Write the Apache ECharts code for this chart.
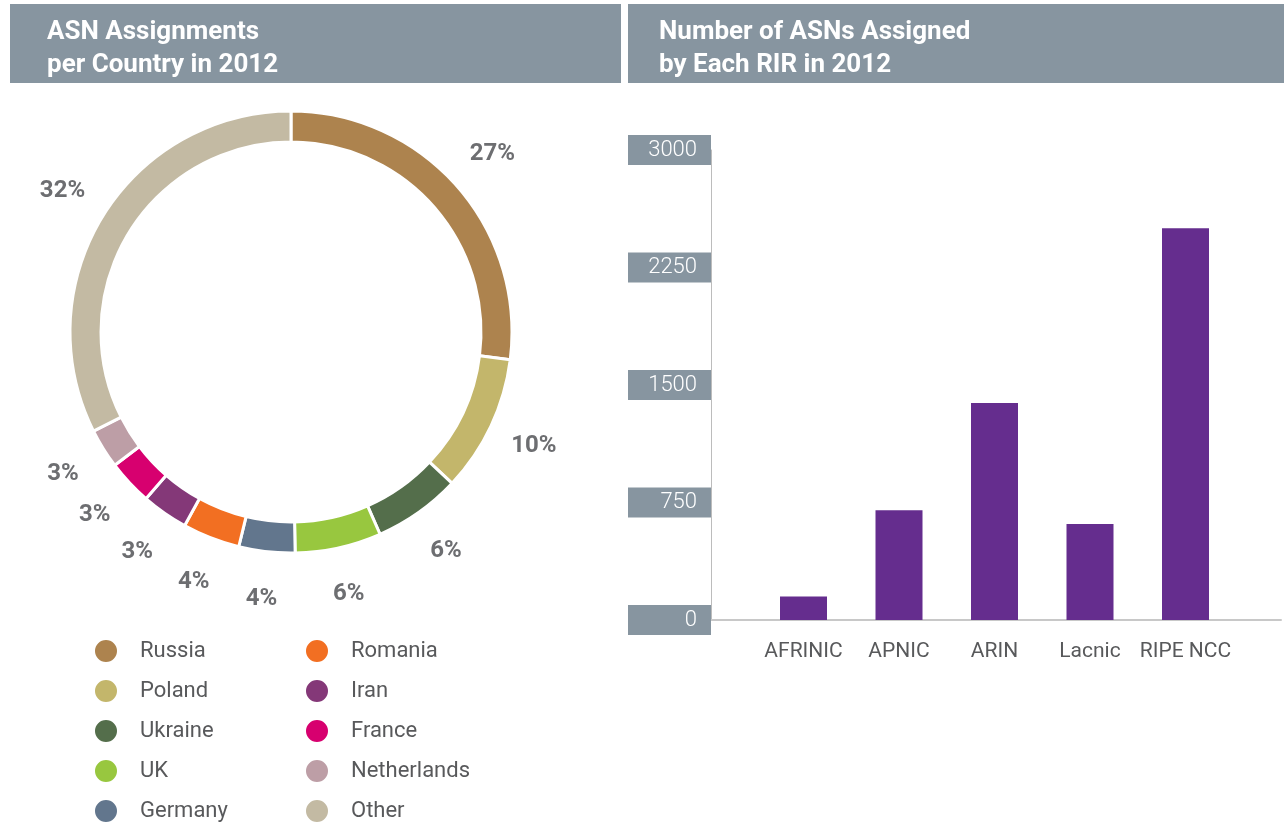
<!DOCTYPE html>
<html>
<head>
<meta charset="utf-8">
<script src="https://cdn.jsdelivr.net/npm/echarts@6/dist/echarts.min.js"></script>
<style>
html,body{margin:0;padding:0;background:#fff;}
#main{width:1284px;height:826px;}
</style>
</head>
<body>
<div id="main"></div>
<script>
// ---- Data ----
const countries = ['Russia','Poland','Ukraine','UK','Germany','Romania','Iran','France','Netherlands','Other'];
const countryShare = [27, 10, 6.4, 6.3, 4.1, 4.2, 3.4, 3.3, 2.9, 32.4];
const countryColors = ['#ad834e','#c3b66b','#546e4b','#98c73f','#62768d','#f26f22','#843878','#d7006f','#bd9ea6','#c3baa3'];

const rirs = ['AFRINIC','APNIC','ARIN','Lacnic','RIPE NCC'];
const rirAsns = [150, 700, 1385, 613, 2500];
const yTicks = [0, 750, 1500, 2250, 3000];

const leftTitle = 'ASN Assignments\nper Country in 2012';
const rightTitle = 'Number of ASNs Assigned\nby Each RIR in 2012';

// ---- Styles ----
const headerColor = '#8795a0';
const textGray = '#58595b';
const labelGray = '#6d6e71';
const barColor = '#652d8e';

const chart = echarts.init(document.getElementById('main'), null, {renderer: 'canvas'});

const pieData = countries.map((n, i) => ({name: n, value: countryShare[i], itemStyle: {color: countryColors[i]}}));

const legendBase = {
  orient: 'vertical', top: 638, height: 200, padding: 0,
  icon: 'circle', itemWidth: 24, itemHeight: 24, itemGap: 14,
  textStyle: {color: textGray, fontSize: 22, fontFamily: 'Roboto', padding: [0, 0, 0, 17]},
  selectedMode: false
};

const option = {
  animation: false,
  graphic: [
    {type: 'rect', shape: {x: 10, y: 4, width: 611, height: 79}, style: {fill: headerColor}, silent: true},
    {type: 'rect', shape: {x: 628, y: 4, width: 656, height: 79}, style: {fill: headerColor}, silent: true},
    {type: 'text', left: 47, top: 16, silent: true,
     style: {text: leftTitle, fill: '#fff', font: 'bold 26px Roboto', lineHeight: 33}},
    {type: 'text', left: 659, top: 16, silent: true,
     style: {text: rightTitle, fill: '#fff', font: 'bold 26px Roboto', lineHeight: 33}}
  ],
  legend: [
    Object.assign({}, legendBase, {data: countries.slice(0, 5), left: 93}),
    Object.assign({}, legendBase, {data: countries.slice(5), left: 304})
  ],
  grid: {left: 708, top: 150, width: 579, height: 470},
  xAxis: {
    type: 'category',
    data: ['', ...rirs, ''],
    boundaryGap: false,
    axisTick: {show: false},
    axisLine: {lineStyle: {color: '#c8c8c8', width: 2}},
    axisLabel: {color: textGray, fontSize: 21, fontFamily: 'Roboto', margin: 21, interval: 0}
  },
  yAxis: {
    type: 'value', min: yTicks[0], max: yTicks[yTicks.length - 1], interval: yTicks[1] - yTicks[0],
    offset: -3,
    splitLine: {show: false},
    axisTick: {show: false},
    axisLine: {show: true, lineStyle: {color: '#bcbcbc', width: 1}},
    axisLabel: {
      margin: 0, color: '#fff', fontSize: 22, fontFamily: 'Roboto', fontWeight: 300,
      backgroundColor: headerColor, width: 69, align: 'right',
      padding: [5, 14, 3, 0], lineHeight: 22,
      formatter: v => String(v)
    }
  },
  series: [
    {
      type: 'pie', center: [291, 332], radius: [190, 221], startAngle: 90, clockwise: true,
      data: pieData,
      label: {show: false}, labelLine: {show: false},
      itemStyle: {borderColor: '#fff', borderWidth: 3},
      emphasis: {disabled: true}, silent: true
    },
    {
      type: 'pie', center: [291, 332], radius: [253, 278], startAngle: 90, clockwise: true,
      data: countries.map((n, i) => ({name: n, value: countryShare[i]})),
      itemStyle: {color: 'transparent'},
      label: {
        show: true, position: 'inside', color: labelGray, fontSize: 24, fontWeight: 'bold',
        fontFamily: 'Roboto',
        formatter: p => Math.round(p.value) + '%'
      },
      labelLine: {show: false},
      emphasis: {disabled: true}, silent: true
    },
    {
      type: 'bar',
      data: [null, ...rirAsns, null],
      barWidth: 47,
      itemStyle: {color: barColor},
      silent: true
    }
  ]
};
chart.setOption(option);
</script>
</body>
</html>
